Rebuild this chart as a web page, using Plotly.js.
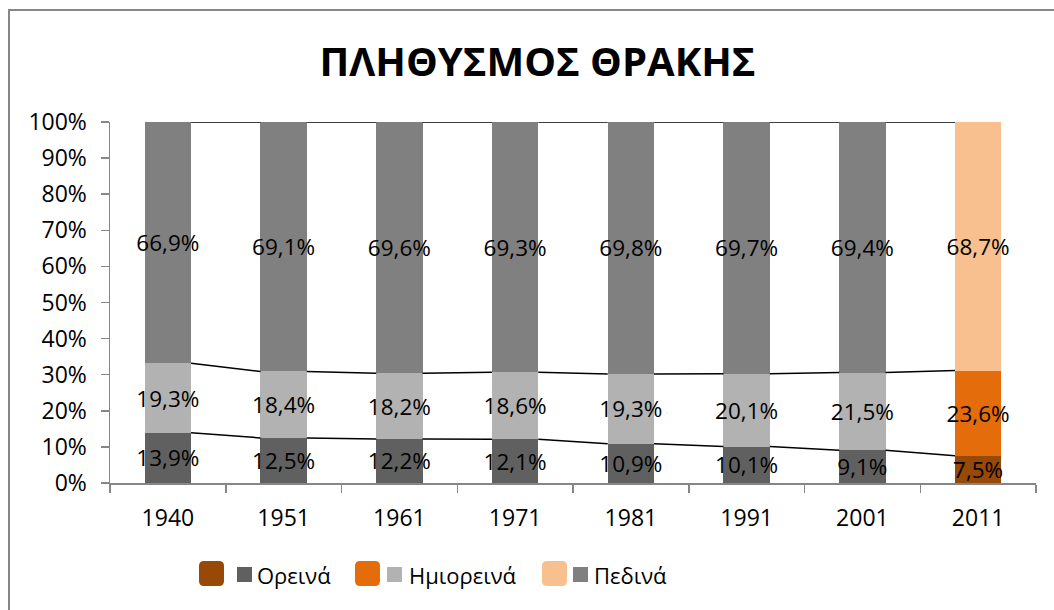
<!DOCTYPE html>
<html>
<head>
<meta charset="utf-8">
<script src="https://cdn.plot.ly/plotly-3.0.1.min.js"></script>
<style>
  html, body { margin: 0; padding: 0; background: #ffffff; }
  #chart { width: 1054px; height: 610px; }
</style>
</head>
<body>
<div id="chart"></div>
<script>
// ---- data ----
const years = ["1940", "1951", "1961", "1971", "1981", "1991", "2001", "2011"];
const seriesNames = ["Ορεινά", "Ημιορεινά", "Πεδινά"];
const oreina = [13.9, 12.5, 12.2, 12.1, 10.9, 10.1, 9.1, 7.5];
const imioreina = [19.3, 18.4, 18.2, 18.6, 19.3, 20.1, 21.5, 23.6];
const pedina = [66.9, 69.1, 69.6, 69.3, 69.8, 69.7, 69.4, 68.7];
const chartTitle = "ΠΛΗΘΥΣΜΟΣ ΘΡΑΚΗΣ";

// ---- styles ----
const grayColors = ["#606060", "#b2b2b2", "#808080"];
const hiColors = ["#984807", "#e46c0a", "#f9c08f"];
const FONT = "Open Sans, DejaVu Sans, sans-serif";
const axisColor = "#868686";
const barFrac = 0.4;

// plot area in pixels
const L = 110, R = 1036, T = 122, B = 483;
const px = p => (p - L) / (R - L);
const py = p => (B - p) / (B - T);

const fmt = v => v.toFixed(1).replace(".", ",") + "%";
const colorsFor = idx => years.map((y, i) => i === years.length - 1 ? hiColors[idx] : grayColors[idx]);

const allSeries = [oreina, imioreina, pedina];
const traces = allSeries.map((vals, k) => ({
  type: "bar",
  x: years,
  y: vals,
  name: seriesNames[k],
  marker: { color: colorsFor(k), line: { width: 0 } },
  text: vals.map(fmt),
  textposition: "inside",
  insidetextanchor: "middle",
  textangle: 0,
  constraintext: "none",
  cliponaxis: false,
  textfont: { family: FONT, size: 22.5, color: "#000000" },
  hoverinfo: "skip",
  showlegend: false
}));

// series lines connecting stacked segment tops
const totals = years.map((y, i) => oreina[i] + imioreina[i] + pedina[i]);
const cum1 = years.map((y, i) => oreina[i] / totals[i] * 100);
const cum2 = years.map((y, i) => (oreina[i] + imioreina[i]) / totals[i] * 100);
const cum3 = years.map((y, i) => 100);
[cum1, cum2, cum3].forEach(c => {
  const xs = [], ys = [];
  for (let i = 0; i < years.length - 1; i++) {
    xs.push(i + barFrac / 2, i + 1 - barFrac / 2, null);
    ys.push(c[i], c[i + 1], null);
  }
  traces.push({
    type: "scatter", mode: "lines", xaxis: "x2", yaxis: "y",
    x: xs, y: ys, line: { color: "#000000", width: 1.5 },
    hoverinfo: "skip", showlegend: false, cliponaxis: false
  });
});

// custom legend
const shapes = [];
const annotations = [];
const legendItems = [
  { box: 199, sq: 237, tx: 255 },
  { box: 355, sq: 387, tx: 407 },
  { box: 542, sq: 573, tx: 592 }
];
function roundRect(x0, y0, x1, y1, r) {
  const X = v => px(v), Y = v => py(v);
  return `M${X(x0 + r)},${Y(y0)} L${X(x1 - r)},${Y(y0)} Q${X(x1)},${Y(y0)} ${X(x1)},${Y(y0 + r)} ` +
         `L${X(x1)},${Y(y1 - r)} Q${X(x1)},${Y(y1)} ${X(x1 - r)},${Y(y1)} ` +
         `L${X(x0 + r)},${Y(y1)} Q${X(x0)},${Y(y1)} ${X(x0)},${Y(y1 - r)} ` +
         `L${X(x0)},${Y(y0 + r)} Q${X(x0)},${Y(y0)} ${X(x0 + r)},${Y(y0)} Z`;
}
legendItems.forEach((it, k) => {
  shapes.push({
    type: "path", xref: "paper", yref: "paper",
    path: roundRect(it.box, 561, it.box + 25, 586, 5),
    fillcolor: hiColors[k], line: { width: 0 }
  });
  shapes.push({
    type: "rect", xref: "paper", yref: "paper",
    x0: px(it.sq), x1: px(it.sq + 15), y0: py(567), y1: py(582),
    fillcolor: grayColors[k], line: { width: 0 }
  });
  annotations.push({
    xref: "paper", yref: "paper", x: px(it.tx), y: py(575),
    xanchor: "left", yanchor: "middle", showarrow: false,
    text: seriesNames[k], font: { family: FONT, size: 22, color: "#000000" }
  });
});
// outer chart border
shapes.push({
  type: "rect", xref: "paper", yref: "paper",
  x0: px(9), x1: px(1070), y0: py(620), y1: py(10),
  line: { color: axisColor, width: 2 }, fillcolor: "rgba(0,0,0,0)", layer: "below"
});

const layout = {
  width: 1054, height: 610,
  margin: { l: L, r: 1054 - R, t: T, b: 610 - B },
  paper_bgcolor: "#ffffff", plot_bgcolor: "#ffffff",
  barmode: "stack", barnorm: "percent", bargap: 1 - barFrac,
  title: {
    text: "<b>" + chartTitle + "</b>",
    font: { family: FONT, size: 40, color: "#000000" },
    x: 0.51, xanchor: "center", xref: "container",
    y: 1 - 62 / 610, yanchor: "middle", yref: "container"
  },
  xaxis: {
    type: "category", range: [-0.5, years.length - 0.5],
    showline: true, linecolor: axisColor, linewidth: 1.5,
    ticks: "outside", tickson: "boundaries", ticklen: 8, tickcolor: axisColor, tickwidth: 1.5,
    ticklabelstandoff: 14,
    showgrid: false, zeroline: false,
    tickfont: { family: FONT, size: 23, color: "#000000" },
    fixedrange: true
  },
  xaxis2: {
    overlaying: "x", range: [-0.5, years.length - 0.5],
    visible: false, showgrid: false, zeroline: false, fixedrange: true
  },
  yaxis: {
    range: [0, 100], dtick: 10, ticksuffix: "%",
    showline: true, linecolor: axisColor, linewidth: 1.5,
    ticks: "outside", ticklen: 8, tickcolor: axisColor, tickwidth: 1.5,
    ticklabelstandoff: 9,
    showgrid: false, zeroline: false,
    tickfont: { family: FONT, size: 23, color: "#000000" },
    fixedrange: true
  },
  shapes: shapes,
  annotations: annotations,
  showlegend: false
};

Plotly.newPlot("chart", traces, layout, { displayModeBar: false, staticPlot: true });
</script>
</body>
</html>
